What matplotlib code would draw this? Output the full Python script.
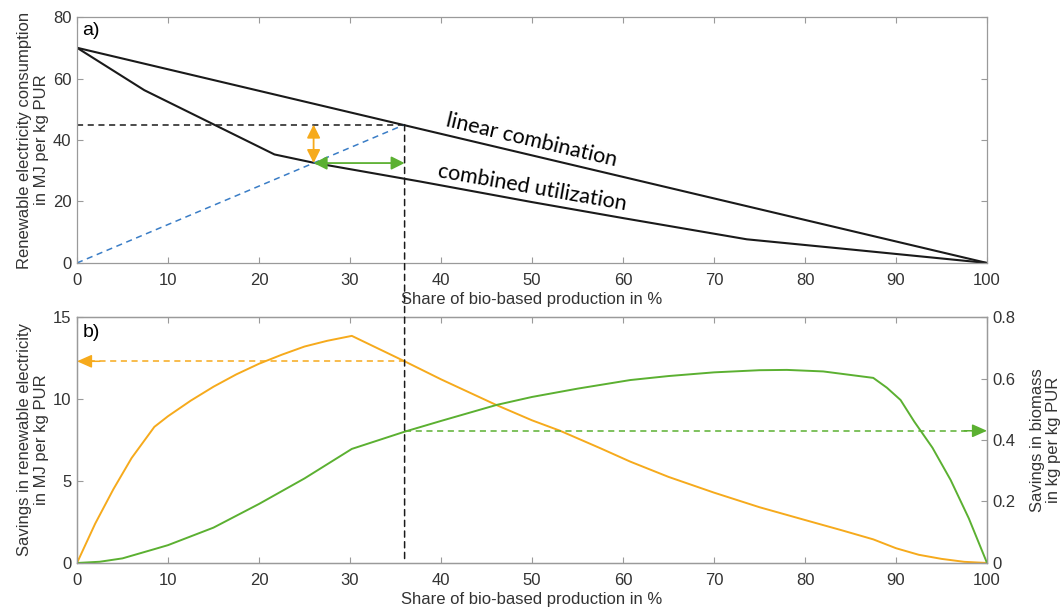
import matplotlib
matplotlib.use("Agg")
import matplotlib.pyplot as plt
from matplotlib.patches import ConnectionPatch

plt.rcParams['font.family'] = ['Liberation Sans', 'DejaVu Sans']

# ---- data: panel a ----
lin_x = [0, 100]
lin_y = [70, 0]
comb_x = [0, 7.4, 21.7, 26, 37.7, 50, 60, 73.6, 85, 100]
comb_y = [70, 56.2, 35.3, 32.6, 26.5, 19.8, 14.6, 7.7, 4.4, 0]
ref_x = [0, 36]          # blue dashed ray through origin
ref_y = [0, 45]
share_ref = 36
cons_ref = 45
cons_comb = 32.5
share_comb = 26

# ---- data: panel b ----
el_x = [0, 2, 4, 6, 8.5, 10, 12.5, 15, 17.5, 20, 22.5, 25, 27.5, 30.2,
        36, 40, 46.1, 50, 53.1, 57.5, 60.8, 65, 70, 75, 80, 84, 87.5, 90, 92.5, 95, 97.5, 100]
el_y = [0, 2.4, 4.5, 6.4, 8.3, 8.95, 9.9, 10.75, 11.5, 12.15, 12.7, 13.2, 13.55, 13.85,
        12.3, 11.2, 9.63, 8.7, 8.06, 7.0, 6.18, 5.25, 4.29, 3.4, 2.62, 2.0, 1.44, 0.9, 0.5, 0.25, 0.07, 0]
bio_x = [0, 2.5, 5, 8.5, 10, 15, 20, 25, 30.2, 36, 40, 46.1, 50, 55, 60.8, 65, 70, 75, 78, 82,
         87.5, 89, 90.5, 92, 94, 96, 98, 100]
bio_y = [0, 0.004, 0.015, 0.045, 0.058, 0.115, 0.192, 0.275, 0.371, 0.427, 0.462, 0.514, 0.54,
         0.567, 0.595, 0.608, 0.62, 0.627, 0.628, 0.623, 0.602, 0.57, 0.53, 0.46, 0.375, 0.27, 0.145, 0]
el_saving_ref = 12.3
bio_saving_ref = 0.43

BLACK = '#1a1a1a'
ORANGE = '#F6AA1C'
GREEN = '#5BB031'
BLUE = '#3A7DC6'
SPINE = '#9a9a9a'
TICK = '#333333'
FS = 12

fig = plt.figure(figsize=(10.62, 6.12), dpi=100)
ax1 = fig.add_axes([0.0725, 0.5703, 0.8569, 0.4019])
ax2 = fig.add_axes([0.0725, 0.0801, 0.8569, 0.4019])

def style(ax, right=True):
    for s in ax.spines.values():
        s.set_color(SPINE)
        s.set_linewidth(0.9)
    ax.tick_params(direction='in', length=4, width=0.8, color=SPINE,
                   labelcolor=TICK, labelsize=FS, top=True, right=right)
    ax.tick_params(axis='x', pad=7)
    ax.tick_params(axis='y', pad=4)
    ax.set_xlim(0, 100)
    ax.set_xticks(range(0, 101, 10))

# panel a
style(ax1)
ax1.set_ylim(0, 80)
ax1.set_yticks(range(0, 81, 20))
ax1.plot(lin_x, lin_y, color=BLACK, lw=1.5)
ax1.plot(comb_x, comb_y, color=BLACK, lw=1.5)
ax1.plot(ref_x, ref_y, color=BLUE, lw=1.1, ls=(0, (4, 3)))
ax1.plot([0, share_ref], [cons_ref, cons_ref], color=BLACK, lw=1.1, ls=(0, (4, 3)))
ax1.annotate('', xy=(share_comb, cons_ref), xytext=(share_comb, cons_comb),
             arrowprops=dict(arrowstyle='<|-|>,head_length=0.8,head_width=0.4',
                             color=ORANGE, lw=1.3, shrinkA=0, shrinkB=0))
ax1.annotate('', xy=(share_ref, cons_comb), xytext=(share_comb, cons_comb),
             arrowprops=dict(arrowstyle='<|-|>,head_length=0.8,head_width=0.4',
                             color=GREEN, lw=1.3, shrinkA=0, shrinkB=0))
ax1.text(0.6, 78.5, 'a)', fontsize=14, va='top', ha='left', color='black')
ax1.text(49.9, 39.9, 'linear combination', rotation=-13.3, fontsize=15.5,
         family=['Lato', 'DejaVu Sans'], ha='center', va='center', rotation_mode='anchor')
ax1.text(50.0, 24.4, 'combined utilization', rotation=-10.0, fontsize=15.5,
         family=['Lato', 'DejaVu Sans'], ha='center', va='center', rotation_mode='anchor')
ax1.set_xlabel('Share of bio-based production in %', fontsize=FS, color=TICK, labelpad=3)
ax1.set_ylabel('Renewable electricity consumption\nin MJ per kg PUR', fontsize=FS,
               color=TICK, labelpad=3, linespacing=1.15)

# panel b
style(ax2, right=False)
ax2.set_ylim(0, 15)
ax2.set_yticks(range(0, 16, 5))
ax2b = ax2.twinx()
ax2b.set_ylim(0, 0.8)
ax2b.set_yticks([0, 0.2, 0.4, 0.6, 0.8])
ax2b.set_yticklabels(['0', '0.2', '0.4', '0.6', '0.8'])
for s in ax2b.spines.values():
    s.set_color(SPINE)
    s.set_linewidth(0.9)
ax2b.tick_params(direction='in', length=4, width=0.8, color=SPINE,
                 labelcolor=TICK, labelsize=FS, pad=4)

ax2.plot(el_x, el_y, color=ORANGE, lw=1.4)
ax2b.plot(bio_x, bio_y, color=GREEN, lw=1.4)
ax2.plot([share_ref, 1.5], [el_saving_ref, el_saving_ref], color=ORANGE, lw=1.1, ls=(0, (4, 3)))
ax2.annotate('', xy=(0, el_saving_ref), xytext=(2.5, el_saving_ref),
             arrowprops=dict(arrowstyle='-|>,head_length=0.9,head_width=0.4',
                             color=ORANGE, lw=1.1, shrinkA=0, shrinkB=0))
ax2b.plot([share_ref, 98.5], [bio_saving_ref, bio_saving_ref], color=GREEN, lw=1.1, ls=(0, (4, 3)))
ax2b.annotate('', xy=(100, bio_saving_ref), xytext=(97.5, bio_saving_ref),
              arrowprops=dict(arrowstyle='-|>,head_length=0.9,head_width=0.4',
                              color=GREEN, lw=1.1, shrinkA=0, shrinkB=0))
ax2.text(0.6, 14.6, 'b)', fontsize=14, va='top', ha='left', color='black')
ax2.set_xlabel('Share of bio-based production in %', fontsize=FS, color=TICK, labelpad=3)
ax2.set_ylabel('Savings in renewable electricity\nin MJ per kg PUR', fontsize=FS,
               color=TICK, labelpad=3, linespacing=1.15)
ax2b.set_ylabel('Savings in biomass\nin kg per kg PUR', fontsize=FS, color=TICK,
                labelpad=10, linespacing=1.15)

# vertical dashed line linking both panels
con = ConnectionPatch(xyA=(share_ref, cons_ref), coordsA=ax1.transData,
                      xyB=(share_ref, 0), coordsB=ax2.transData,
                      color=BLACK, lw=1.1, ls=(0, (4, 3)), zorder=5)
fig.add_artist(con)

fig.savefig('out.png', dpi=100)
